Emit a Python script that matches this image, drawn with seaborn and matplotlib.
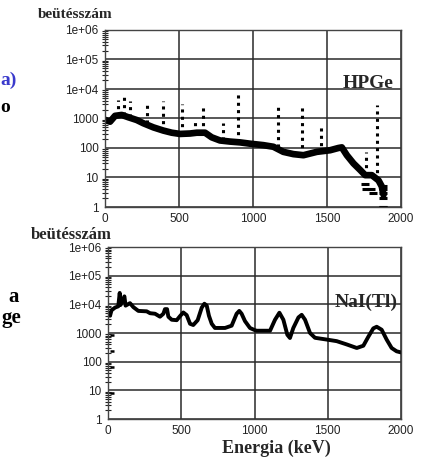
import numpy as np
import pandas as pd
import matplotlib
matplotlib.use('Agg')
import matplotlib.pyplot as plt
import seaborn as sns

# HPGe spectrum: continuum
hpge_e = [0, 34, 68, 113, 158, 214, 259, 327, 394, 451, 507, 575, 620, 676, 721,
          777, 845, 913, 980, 1070, 1138, 1205, 1273, 1341, 1431, 1521, 1577, 1600,
          1634, 1679, 1724, 1758, 1803, 1848, 1870, 1882]
hpge_c = [900, 780, 1230, 1320, 1100, 890, 690, 500, 390, 330, 300, 310, 330, 330, 230,
          180, 165, 155, 140, 125, 110, 74, 62, 57, 74, 84, 100, 105,
          57, 30, 18, 12, 12, 8, 5, 2.6]

# HPGe full-energy peaks (dotted spikes)
peak_e = [90, 128, 169, 282, 394, 518, 608, 660, 800, 901, 1167, 1329, 1460, 1764, 1836]
peak_top = [4300, 7300, 3800, 3300, 3800, 3150, 790, 2550, 690, 8300, 2900, 2550, 520, 74, 2900]
peak_base = [1250, 1300, 1100, 700, 390, 300, 320, 330, 180, 155, 110, 57, 70, 12, 8]

# HPGe low-count points at the high-energy end
low_e = [1755, 1762, 1800, 1812, 1875, 1875, 1875, 1875, 1875, 1878]
low_c = [6, 4, 4, 3, 1, 2, 3, 4, 5, 1]

# NaI(Tl) spectrum
nai_e = [14, 24, 48, 70, 80, 86, 112, 120, 150, 173, 207, 264, 287, 321, 355, 378, 389,
         403, 412, 435, 469, 492, 514, 537, 560, 582, 612, 640, 658, 674, 689, 708, 730,
         799, 844, 878, 896, 912, 935, 969, 1003, 1015, 1106, 1140, 1170, 1197, 1224,
         1242, 1265, 1300, 1322, 1345, 1379, 1413, 1493, 1561, 1629, 1698, 1743, 1777,
         1811, 1834, 1868, 1902, 1936, 1970, 2000]
nai_c = [4000, 6200, 7700, 8500, 25000, 9500, 19000, 9000, 11000, 8000, 5900, 5700, 4900,
         4700, 3700, 4700, 6800, 6800, 3700, 2900, 2800, 3900, 5200, 4200, 2100, 1900, 2800,
         7700, 10500, 9000, 4000, 2100, 1500, 1500, 1800, 4700, 5900, 4700, 2600, 1500, 1250,
         1200, 1200, 2900, 5100, 2900, 870, 670, 1500, 3500, 4300, 2900, 1000, 680, 590, 520,
         400, 300, 360, 740, 1450, 1650, 1300, 590, 300, 230, 210]
nai_stray_e = [30, 30, 30, 30]
nai_stray_c = [850, 240, 67, 8]

x_ticks = [0, 500, 1000, 1500, 2000]
y_ticks = [1, 10, 100, 1000, 1e4, 1e5, 1e6]
y_labels = ['1', '10', '100', '1000', '1e+04', '1e+05', '1e+06']

sns.set_theme(style='white')
plt.rcParams['font.family'] = ['Liberation Sans', 'DejaVu Sans']

W, H = 425, 461
fig = plt.figure(figsize=(W / 100, H / 100), dpi=100)
ax1 = fig.add_axes([105 / W, 1 - 207 / H, 296 / W, 177 / H])
ax2 = fig.add_axes([108 / W, 1 - 419 / H, 293 / W, 172 / H])

hp = pd.DataFrame({'E': hpge_e, 'c': hpge_c})
sns.lineplot(data=hp, x='E', y='c', ax=ax1, color='black', lw=4.8, estimator=None)
ax1.vlines(peak_e, peak_base, peak_top, colors='black', lw=2.2,
           linestyles=(0, (1.0, 1.4)))
low = pd.DataFrame({'E': low_e, 'c': low_c})
sns.scatterplot(data=low, x='E', y='c', ax=ax1, marker='_', s=40, color='black',
                linewidth=2.2)

nai = pd.DataFrame({'E': nai_e, 'c': nai_c})
sns.lineplot(data=nai, x='E', y='c', ax=ax2, color='black', lw=2.8, estimator=None)
stray = pd.DataFrame({'E': nai_stray_e, 'c': nai_stray_c})
sns.scatterplot(data=stray, x='E', y='c', ax=ax2, marker='_', s=12, color='black',
                linewidth=1.8)

for ax in (ax1, ax2):
    ax.set_yscale('log')
    ax.set_xlim(0, 2000)
    ax.set_ylim(1, 1e6)
    ax.set_xticks(x_ticks)
    ax.set_xticklabels([str(t) for t in x_ticks])
    ax.set_yticks(y_ticks)
    ax.set_yticklabels(y_labels)
    ax.set_xlabel('')
    ax.set_ylabel('')
    ax.grid(True, which='major', color='#2a2a2a', lw=1.1)
    ax.set_axisbelow(True)
    for s in ax.spines.values():
        s.set_color('#444444')
        s.set_linewidth(1.0)
    ax.tick_params(axis='x', which='both', length=0, pad=4, labelsize=8.5,
                   labelcolor='#222222')
    ax.tick_params(axis='y', which='major', direction='out', length=3, width=2.5,
                   color='black', pad=1.5, labelsize=8.5, labelcolor='#222222')
    ax.tick_params(axis='y', which='minor', direction='inout', length=4, width=0.8,
                   color='#222222', left=True)

serif = ['Liberation Serif', 'DejaVu Serif']
fig.text(112 / W, 1 - 15 / H, 'beütésszám', family=serif, weight='bold', fontsize=11,
         va='center', ha='right')
fig.text(112 / W, 1 - 235 / H, 'beütésszám', family=serif, weight='bold', fontsize=12,
         va='center', ha='right')
ax1.text(0.975, 0.7, 'HPGe', transform=ax1.transAxes, family=serif, weight='bold',
         fontsize=14, ha='right', va='center')
ax2.text(0.99, 0.68, 'NaI(Tl)', transform=ax2.transAxes, family=serif, weight='bold',
         fontsize=14, ha='right', va='center')
fig.text(276 / W, 1 - 448 / H, 'Energia (keV)', family=serif, weight='bold',
         fontsize=13, ha='center', va='center')

# text fragments at the left edge of the picture
fig.text(0, 1 - 80 / H, 'a)', family=serif, weight='bold', fontsize=14,
         color='#3a3acc', ha='left', va='center')
fig.text(0, 1 - 107 / H, 'o', family=serif, weight='bold', fontsize=14,
         color='black', ha='left', va='center')
fig.text(19 / W, 1 - 297 / H, 'a', family=serif, weight='bold', fontsize=15,
         color='black', ha='right', va='center')
fig.text(21 / W, 1 - 318 / H, 'ge', family=serif, weight='bold', fontsize=15,
         color='black', ha='right', va='center')

fig.savefig('out.png', dpi=100)
